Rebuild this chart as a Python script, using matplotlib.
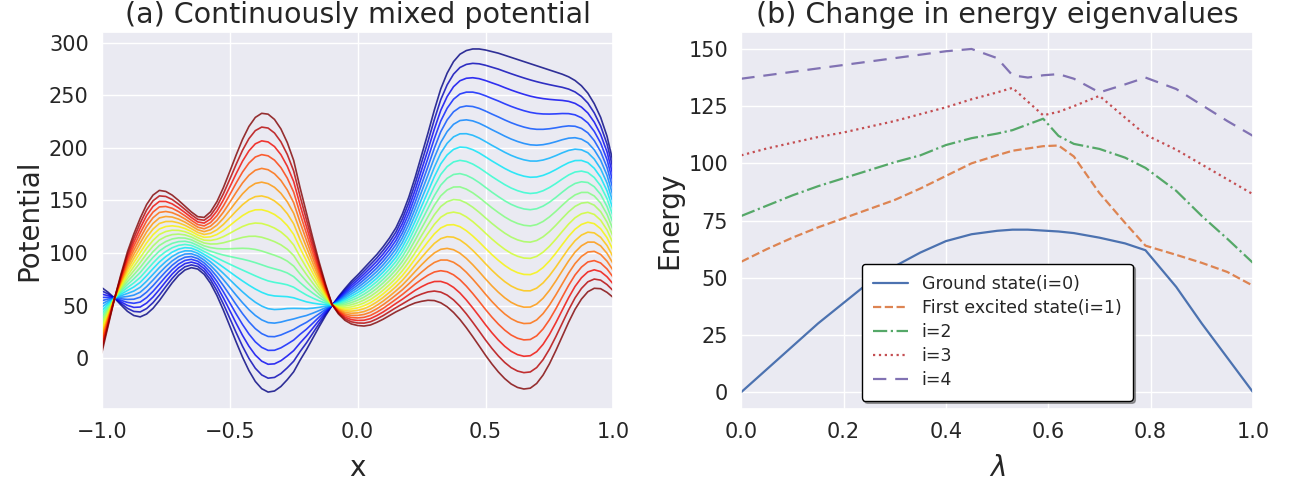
import numpy as np
import matplotlib
matplotlib.use("Agg")
import matplotlib.pyplot as plt
from matplotlib.ticker import MultipleLocator
import seaborn as sns

# ─── data: (a) the two end potentials, mixed with weight t ─────────────────
x_pos = [-1.0, -0.975, -0.95, -0.925, -0.9, -0.875, -0.85, -0.825, -0.8, -0.775,
         -0.75, -0.725, -0.7, -0.675, -0.65, -0.625, -0.6, -0.575, -0.55, -0.525,
         -0.5, -0.475, -0.45, -0.425, -0.4, -0.375, -0.35, -0.325, -0.3, -0.275,
         -0.25, -0.225, -0.2, -0.175, -0.15, -0.125, -0.1, -0.075, -0.05, -0.025,
         0.0, 0.025, 0.05, 0.075, 0.1, 0.125, 0.15, 0.175, 0.2, 0.225,
         0.25, 0.275, 0.3, 0.325, 0.35, 0.375, 0.4, 0.425, 0.45, 0.475,
         0.5, 0.525, 0.55, 0.575, 0.6, 0.625, 0.65, 0.675, 0.7, 0.725,
         0.75, 0.775, 0.8, 0.825, 0.85, 0.875, 0.9, 0.925, 0.95, 0.975, 1.0]

v_start = [67, 62.5, 57, 50.5, 44.5, 40.5, 39.2, 41.9, 47.3, 54.7,
           63.2, 71.6, 78.7, 83.8, 86, 84.7, 79.7, 71.1, 59.5, 45.7,
           30.7, 15.4, 0.9, -11.9, -22.2, -29.1, -32.3, -31.3, -27, -20.5,
           -13, -2, 8, 19, 30, 40.5, 50, 58.5, 66, 73,
           79, 85.5, 92, 98.5, 106, 114.3, 124, 137, 153, 172,
           193, 214, 236, 256, 271, 282, 289, 292.5, 294, 294,
           293, 291.5, 290, 288, 286, 284, 282, 280, 278, 276,
           274, 272, 270, 267.5, 264, 259, 252, 242, 229, 211, 185]

v_end = [5, 31, 57, 80, 101, 118, 133, 146, 155, 159.5,
         158.5, 155, 150, 144.5, 139, 134.5, 133.8, 139.1, 148.8, 162,
         177.3, 193.1, 208, 220.3, 228.9, 232.8, 232, 227, 218, 205,
         188, 162, 138, 114, 91, 70, 51, 42, 36, 32.5,
         31, 30.5, 31.5, 34, 37, 40.5, 44, 47, 50, 52.5,
         54, 55, 54.7, 52.6, 48.8, 43.4, 36.7, 28.9, 20.4, 11.6,
         2.7, -5.6, -13.1, -19.5, -24.6, -27.9, -29.4, -28.6, -24.1, -16.1,
         -5.4, 7.2, 20.7, 34.2, 46.4, 56.1, 63.1, 66.4, 66, 62.5, 57.5]

mix_weights = np.linspace(0, 1, 21)

# ─── data: (b) eigenvalues vs lambda ──────────────────────────────────────
lam = [0, 0.05, 0.1, 0.15, 0.2, 0.25, 0.3, 0.35, 0.4, 0.45, 0.5, 0.53,
       0.56, 0.59, 0.62, 0.65, 0.7, 0.75, 0.79, 0.85, 0.9, 0.95, 1.0]

e0 = [0, 10, 20, 30, 39, 48, 55, 61, 66, 69, 70.5, 71,
      71, 70.6, 70.2, 69.5, 67.5, 65, 62, 46, 30, 15, 0]
e1 = [57, 62.5, 67.5, 72, 76, 80, 84, 89, 94.5, 100, 103.5, 105.5,
      106.5, 107.5, 107.8, 103, 87, 74, 64, 60, 56.5, 52.5, 46.5]
e2 = [77, 81.5, 86, 90, 93.5, 97, 100.5, 103.5, 108, 111, 113, 114.5,
      117, 119.5, 112, 108.5, 106.3, 102.5, 98, 88, 77, 67, 56.5]
e3 = [103.5, 106.5, 109, 111.5, 113.5, 116, 118.5, 121.5, 124.5, 128, 131, 133,
      127, 121, 122.5, 125, 129.5, 120, 112.5, 106, 99.5, 93, 86.5]
e4 = [137, 138.5, 140, 141.5, 143, 144.5, 146, 147.5, 149, 150, 146, 138.5,
      137.5, 138.5, 139, 137, 131, 134.5, 137.5, 132.5, 125.5, 118.5, 112]

labels = ["Ground state(i=0)", "First excited state(i=1)", "i=2", "i=3", "i=4"]
styles = ["-", "--", "-.", ":", (0, (6, 4))]

sns.set_theme(style="darkgrid")
colors = sns.color_palette("deep")

fig, (ax1, ax2) = plt.subplots(1, 2, figsize=(12.89, 4.82), dpi=100)
fig.subplots_adjust(left=0.079, right=0.972, top=0.934, bottom=0.151, wspace=0.25)

# ─── (a) ───────────────────────────────────────────────────────────────────
vs = np.array(v_start)
ve = np.array(v_end)
for t in mix_weights:
    ax1.plot(x_pos, (1 - t) * vs + t * ve, color=plt.cm.jet(t), lw=1.2, alpha=0.8)

ax1.set_xlim(-1, 1)
ax1.xaxis.set_major_locator(MultipleLocator(0.5))
ax1.yaxis.set_major_locator(MultipleLocator(50))
ax1.set_title("(a) Continuously mixed potential", fontsize=20.5)
ax1.set_xlabel("x", fontsize=20, labelpad=8)
ax1.set_ylabel("Potential", fontsize=20)
ax1.tick_params(labelsize=15)

# ─── (b) ───────────────────────────────────────────────────────────────────
for i, e in enumerate([e0, e1, e2, e3, e4]):
    ax2.plot(lam, e, color=colors[i], ls=styles[i], lw=1.6, label=labels[i])

ax2.set_xlim(0, 1)
ax2.xaxis.set_major_locator(MultipleLocator(0.2))
ax2.yaxis.set_major_locator(MultipleLocator(25))
ax2.set_title("(b) Change in energy eigenvalues", fontsize=20.5)
ax2.set_xlabel(r"$\lambda$", fontsize=20, labelpad=8)
ax2.set_ylabel("Energy", fontsize=20)
ax2.tick_params(labelsize=15)

leg = ax2.legend(loc="lower center", fontsize=12.5, frameon=True, fancybox=True,
                 shadow=True, framealpha=1, facecolor="white", edgecolor="black",
                 labelspacing=0.35, borderpad=0.65)

fig.savefig("out.png", dpi=100)
